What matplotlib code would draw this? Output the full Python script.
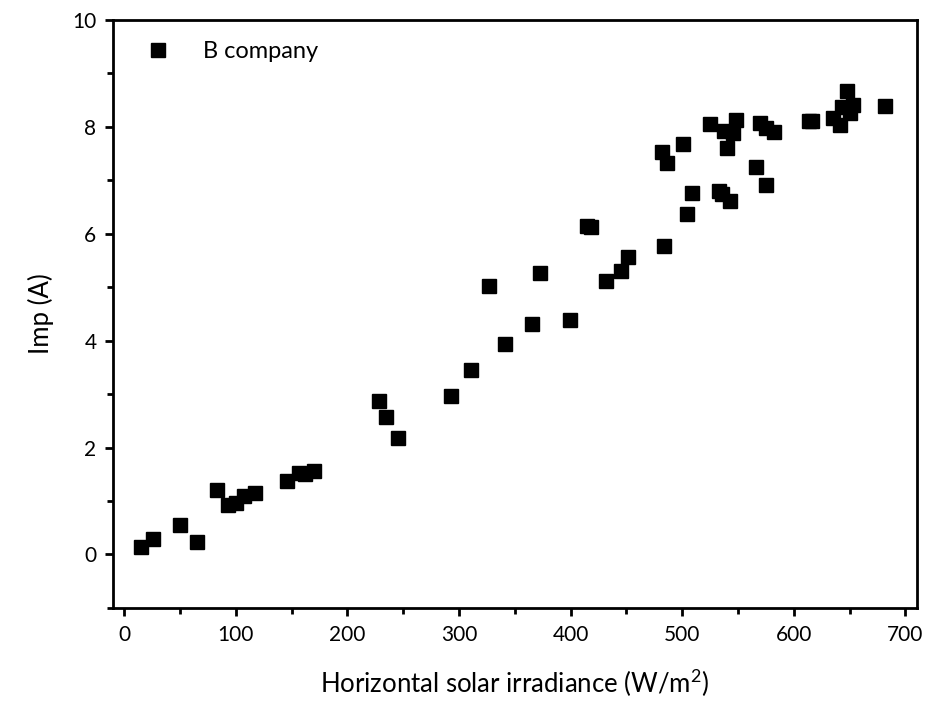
import numpy as np
import matplotlib
matplotlib.use('Agg')
import matplotlib.pyplot as plt
from matplotlib.ticker import MultipleLocator

#datos: irradiancia (W/m2) e Imp (A) de la empresa B
irradiance = [14.6, 25.6, 50.3, 65.5, 83.4, 92.7, 100, 107.5, 117, 145.7,
              156.4, 162, 170, 228.2, 234.5, 245.2, 292.6, 311, 326.6, 340.9,
              365, 372.2, 399, 415, 418, 432, 445.5, 451.5, 482.1, 483.9,
              486, 500.9, 504.5, 509, 524.8, 533, 536, 537.6, 540.2, 542.6,
              545.5, 548.6, 566.2, 569.4, 575.1, 575.4, 582, 614, 616.5, 635,
              641, 642.8, 647.3, 650.3, 653.2, 682]
imp = [0.14, 0.28, 0.56, 0.23, 1.20, 0.92, 0.97, 1.10, 1.15, 1.38,
       1.53, 1.51, 1.57, 2.87, 2.57, 2.18, 2.97, 3.46, 5.02, 3.94,
       4.31, 5.27, 4.39, 6.14, 6.13, 5.12, 5.30, 5.56, 7.53, 5.77,
       7.32, 7.68, 6.37, 6.77, 8.06, 6.80, 6.74, 7.93, 7.60, 6.62,
       7.88, 8.13, 7.25, 8.08, 6.91, 7.98, 7.90, 8.12, 8.12, 8.16,
       8.04, 8.38, 8.67, 8.26, 8.41, 8.39]

plt.rcParams['font.family'] = ['Lato', 'DejaVu Sans']
plt.rcParams['mathtext.fontset'] = 'custom'
plt.rcParams['mathtext.rm'] = 'Lato'

fig = plt.figure(figsize=(9.43, 7.16), dpi=100)
ax = fig.add_axes([0.120, 0.151, 0.852, 0.821])

#puntos cuadrados negros
ax.plot(irradiance, imp, linestyle='none', marker='s', markersize=9.5,
        color='black', label='B company')

ax.set_xlim(-10, 710)
ax.set_ylim(-1, 10)
ax.xaxis.set_major_locator(MultipleLocator(100))
ax.xaxis.set_minor_locator(MultipleLocator(50))
ax.yaxis.set_major_locator(MultipleLocator(2))
ax.yaxis.set_minor_locator(MultipleLocator(1))

for s in ax.spines.values():
    s.set_linewidth(2)
ax.tick_params(which='major', direction='out', length=6, width=2, labelsize=15, pad=6)
ax.tick_params(which='minor', direction='out', length=4, width=2)

ax.set_xlabel('Horizontal solar irradiance (W/m$^\\mathregular{2}$)', fontsize=18.5, labelpad=16)
ax.set_ylabel('Imp (A)', fontsize=18.5, labelpad=13)

ax.legend(loc='upper left', frameon=False, fontsize=17, handletextpad=0.9,
          borderaxespad=0.5, bbox_to_anchor=(0.0, 1.0))

fig.savefig('out.png', dpi=100)
